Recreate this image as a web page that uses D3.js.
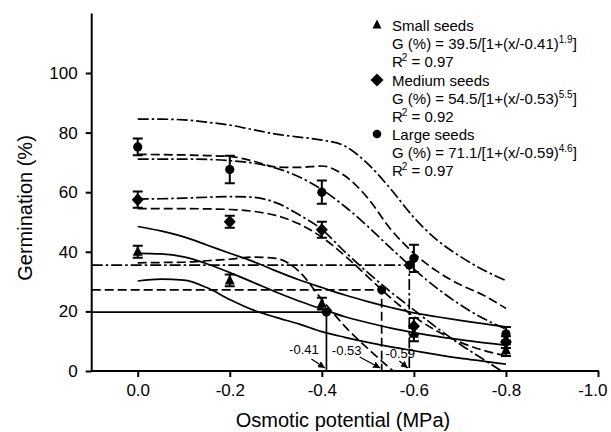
<!DOCTYPE html>
<html>
<head>
<meta charset="utf-8">
<script src="https://cdn.jsdelivr.net/npm/d3@7/dist/d3.min.js"></script>
<style>
html,body{margin:0;padding:0;background:#fff;}
svg{display:block;}
text{font-family:"Liberation Sans", Arial, sans-serif;fill:#000;}
</style>
</head>
<body>
<svg id="chart" width="611" height="432"></svg>
<script>
// ---------- data ----------
const xLevels = [0, -0.2, -0.4, -0.6, -0.8];
const smallMean = [40, 30.4, 22.6, 12.5, 7];
const smallErr = [2, 2, 2, 2.5, 2];
const mediumMean = [57.5, 50.1, 47.4, 15, 9.7];
const mediumErr = [2.7, 2, 2.7, 2.8, 2];
const largeMean = [75.2, 67.6, 60, 37.8, 12.5];
const largeErr = [2.8, 4.6, 3.9, 4.6, 2.3];

const curveX = [0, -0.05, -0.1, -0.15, -0.2, -0.25, -0.3, -0.35, -0.4, -0.45, -0.5, -0.55, -0.6, -0.65, -0.7, -0.75, -0.8];
const smallFit   = [39.5, 39.3, 38.3, 36, 33, 29.8, 26.5, 23.5, 20.8, 18.2, 16.2, 14.4, 12.9, 11.6, 10.5, 9.5, 8.7];
const smallUpper = [48.5, 47, 45, 42.3, 39.5, 36.8, 33.6, 30.6, 28, 25.5, 23.3, 21.3, 19.5, 18.2, 17, 15.9, 14.8];
const smallLower = [30.2, 30.8, 30.5, 28, 24, 20.5, 18, 15.8, 13.2, 11.3, 9.6, 8.1, 6.8, 5.5, 4.3, 3.3, 2.3];
const mediumFit   = [54.5, 54.5, 54.5, 54.4, 54.2, 53.6, 52.2, 49.4, 44.9, 38.7, 31.6, 24.5, 18.3, 13.4, 9.7, 7.0, 5.1];
const mediumUpper = [72.7, 72.6, 72.5, 72.3, 72, 70.5, 68.5, 68.3, 68.8, 65.5, 58, 47.5, 39.5, 33.5, 29, 25.5, 21];
const mediumLowerX = [0, -0.05, -0.1, -0.15, -0.2, -0.25, -0.3, -0.35, -0.4, -0.45, -0.5, -0.555];
const mediumLower  = [36.3, 36.4, 36.5, 37, 37.5, 38.2, 37.8, 33.5, 24, 15, 7.5, 0];
const largeFit   = [71.1, 71.1, 71.1, 71, 70.6, 69.8, 68.1, 65.2, 60.9, 55.2, 48.5, 41.2, 34.2, 27.8, 22.3, 17.7, 14.1];
const largeUpper = [84.5, 84.5, 84.3, 83.5, 82.5, 81, 79.5, 78.5, 77.5, 75.5, 69.5, 61, 51.5, 44, 38.5, 34, 30.3];
const largeLowerX = [0, -0.05, -0.1, -0.15, -0.2, -0.25, -0.3, -0.35, -0.4, -0.45, -0.5, -0.55, -0.6, -0.65, -0.7, -0.75, -0.79];
const largeLower  = [57.7, 57.8, 58, 58.3, 58.5, 58.3, 56.5, 52.5, 47.5, 40, 33, 26.5, 20.5, 14.5, 9, 4, 0];

const x50 = [-0.41, -0.53, -0.59];
const g50 = [19.75, 27.25, 35.55];
const x50Labels = ["-0.41", "-0.53", "-0.59"];

const legendNames = ["Small seeds", "Medium seeds", "Large seeds"];
const legendEq = ["G (%) = 39.5/[1+(x/-0.41)", "G (%) = 54.5/[1+(x/-0.53)", "G (%) = 71.1/[1+(x/-0.59)"];
const legendExp = ["1.9", "5.5", "4.6"];
const legendR2 = ["0.97", "0.92", "0.97"];

const xTicks = [0, -0.2, -0.4, -0.6, -0.8, -1.0];
const yTicks = [0, 20, 40, 60, 80, 100];

// ---------- scales ----------
const svg = d3.select("#chart");
const x = d3.scaleLinear().domain([0.1, -1.0]).range([91.7, 598]);
const y = d3.scaleLinear().domain([0, 120]).range([371, 13.4]);

const DASH = "9,4";
const DASHDOT = "11,3,2.5,3";
const styles = [null, DASH, DASHDOT];

// ---------- axes ----------
const xAxis = d3.axisBottom(x).tickValues(xTicks).tickSize(6).tickPadding(7);
const gx = svg.append("g").attr("transform", `translate(0,${y(0)})`).call(xAxis);
gx.select(".domain").attr("d", `M${x(0.1)},0H${x(-1.0)+1}`);
const yAxis = d3.axisLeft(y).tickValues(yTicks).tickSize(6).tickPadding(8);
const gy = svg.append("g").attr("transform", `translate(${x(0.1)},0)`).call(yAxis);
gy.select(".domain").attr("d", `M0,${y(0)+1}V${y(120)}`);
[gx, gy].forEach(g => {
  g.select(".domain").attr("stroke", "#000").attr("stroke-width", 2);
  g.selectAll(".tick line").attr("stroke", "#000").attr("stroke-width", 2);
  g.selectAll(".tick text").style("font-size", "17px").attr("fill", "#000");
});
gx.selectAll(".tick text").text(d => d === 0 ? "0.0" : "-" + Math.abs(d).toFixed(1));
gx.selectAll(".tick text").filter(d => d === -1.0).attr("text-anchor", "end").attr("x", 9);

svg.append("text").attr("x", 343).attr("y", 427).attr("text-anchor", "middle")
  .style("font-size", "20px").text("Osmotic potential (MPa)");
svg.append("text").attr("transform", "translate(32,208) rotate(-90)").attr("text-anchor", "middle")
  .style("font-size", "20px").text("Germination (%)");

// ---------- curves ----------
const line = d3.line().x(d => x(d[0])).y(d => y(d[1])).curve(d3.curveMonotoneX);
const zip = (xs, ys) => xs.map((v, i) => [v, ys[i]]);
const curves = [
  {xs: curveX, ys: smallUpper, s: 0}, {xs: curveX, ys: smallFit, s: 0}, {xs: curveX, ys: smallLower, s: 0},
  {xs: curveX, ys: mediumUpper, s: 1}, {xs: curveX, ys: mediumFit, s: 1}, {xs: mediumLowerX, ys: mediumLower, s: 1},
  {xs: curveX, ys: largeUpper, s: 2}, {xs: curveX, ys: largeFit, s: 2}, {xs: largeLowerX, ys: largeLower, s: 2}
];
svg.append("g").selectAll("path").data(curves).join("path")
  .attr("d", c => line(zip(c.xs, c.ys)))
  .attr("fill", "none").attr("stroke", "#000").attr("stroke-width", 1.7)
  .attr("stroke-dasharray", c => styles[c.s]);

// ---------- x50 guides ----------
const guides = svg.append("g");
x50.forEach((xv, i) => {
  guides.append("path")
    .attr("d", `M${x(0.1)},${y(g50[i])}H${x(xv)}V${y(0)}`)
    .attr("fill", "none").attr("stroke", "#000").attr("stroke-width", 1.7)
    .attr("stroke-dasharray", styles[i]);
  guides.append("circle").attr("cx", x(xv)).attr("cy", y(g50[i])).attr("r", 4.5).attr("fill", "#000");
});

// labels with arrows
svg.append("defs").append("marker").attr("id", "arr").attr("viewBox", "0 0 10 10")
  .attr("refX", 10).attr("refY", 5).attr("markerWidth", 7).attr("markerHeight", 7)
  .attr("orient", "auto").attr("markerUnits", "userSpaceOnUse")
  .append("path").attr("d", "M0,0L10,5L0,10z").attr("fill", "#000");
const labOff = [[-22.5, -17], [-35, -16], [-9, -13]];
const arrStart = [[-15, -12], [-22, -14], [-10, -10]];
x50.forEach((xv, i) => {
  const bx = x(xv), by = y(0);
  svg.append("text").attr("x", bx + labOff[i][0]).attr("y", by + labOff[i][1])
    .attr("text-anchor", "middle").style("font-size", "13px").text(x50Labels[i]);
  svg.append("line").attr("x1", bx + arrStart[i][0]).attr("y1", by + arrStart[i][1]).attr("x2", bx - 1.5).attr("y2", by - 3)
    .attr("stroke", "#000").attr("stroke-width", 1.3).attr("marker-end", "url(#arr)");
});

// ---------- data points ----------
const triPath = (w, h) => `M0,${-h*0.6}L${w/2},${h*0.4}L${-w/2},${h*0.4}Z`;
const diaPath = (w, h) => `M0,${-h/2}L${w/2},0L0,${h/2}L${-w/2},0Z`;
const cirPath = r => `M${r},0A${r},${r} 0 1,1 ${-r},0A${r},${r} 0 1,1 ${r},0Z`;
const series = [
  {m: smallMean, e: smallErr, d: triPath(10, 10)},
  {m: mediumMean, e: mediumErr, d: diaPath(12, 13)},
  {m: largeMean, e: largeErr, d: cirPath(4.6)}
];
const pts = svg.append("g");
series.forEach(s => {
  xLevels.forEach((xv, i) => {
    const cx = x(xv), lo = y(s.m[i] - s.e[i]), hi = y(s.m[i] + s.e[i]);
    pts.append("path").attr("d", `M${cx},${lo}V${hi}M${cx-5},${lo}H${cx+5}M${cx-5},${hi}H${cx+5}`)
      .attr("stroke", "#000").attr("stroke-width", 2).attr("fill", "none");
    pts.append("path").attr("d", s.d).attr("transform", `translate(${cx},${y(s.m[i])})`).attr("fill", "#000");
  });
});

// ---------- legend ----------
const lg = svg.append("g");
const legSyms = [triPath(9, 9), diaPath(13, 13), cirPath(4.3)];
const legY = [31, 86, 140];
legendNames.forEach((n, i) => {
  const b = legY[i];
  lg.append("path").attr("d", legSyms[i]).attr("transform", `translate(377,${b - 6})`).attr("fill", "#000");
  lg.append("text").attr("x", 392).attr("y", b).style("font-size", "15px").text(n);
  const t = lg.append("text").attr("x", 392).attr("y", b + 18).style("font-size", "15px");
  t.append("tspan").text(legendEq[i]);
  t.append("tspan").attr("dy", -6).style("font-size", "10px").text(legendExp[i]);
  t.append("tspan").attr("dy", 6).text("]");
  const r = lg.append("text").attr("x", 392).attr("y", b + 36).style("font-size", "15px");
  r.append("tspan").text("R");
  r.append("tspan").attr("dy", -6).attr("dx", -1).style("font-size", "10px").text("2");
  r.append("tspan").attr("dy", 6).text(" = " + legendR2[i]);
});
</script>
</body>
</html>
